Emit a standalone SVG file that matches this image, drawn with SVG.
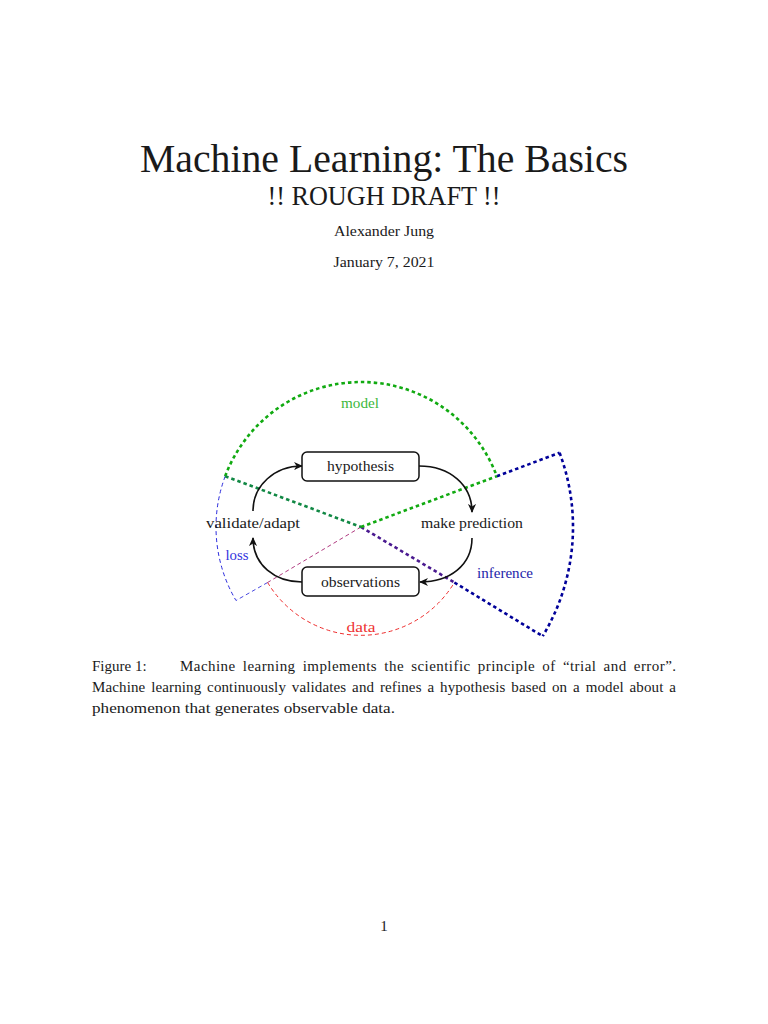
<svg xmlns="http://www.w3.org/2000/svg" width="768" height="1024" viewBox="0 0 768 1024">
<defs>
<style>
text{font-family:'Liberation Serif','DejaVu Serif',serif;fill:#1a1a1a}
.thick{fill:none;stroke-width:2.6;stroke-dasharray:3.5 3}
.thin{fill:none;stroke-width:1;stroke-dasharray:4 3}
.box{fill:#fff;stroke:#111;stroke-width:1.5}
.arr{fill:none;stroke:#111;stroke-width:1.6}
.lbl{font-size:15px;text-anchor:middle}
</style>
<marker id="ah" viewBox="0 0 10 10" refX="9" refY="5" markerWidth="9" markerHeight="9" markerUnits="userSpaceOnUse" orient="auto">
<path d="M0,0.5 L10,5 L0,9.5 L3,5 z" fill="#111"/>
</marker>
</defs>
<rect width="768" height="1024" fill="#fff"/>
<g font-family="Liberation Serif, DejaVu Serif, serif">
<g id="header">
<text x="384" y="172" font-size="40" text-anchor="middle" textLength="488" lengthAdjust="spacingAndGlyphs">Machine Learning: The Basics</text>
<text x="384" y="205" font-size="27" text-anchor="middle" textLength="233" lengthAdjust="spacingAndGlyphs">!! ROUGH DRAFT !!</text>
<text x="384" y="236" font-size="15" text-anchor="middle" textLength="100" lengthAdjust="spacingAndGlyphs">Alexander Jung</text>
<text x="384" y="267" font-size="15" text-anchor="middle" textLength="101" lengthAdjust="spacingAndGlyphs">January 7, 2021</text>
</g>
<g id="sectors">
<g id="inference">
<path class="thick" stroke="#000099" d="M559.6,452.8 A212,212 0 0 1 542.7,636.2"/>
<path class="thick" stroke="#000099" d="M496.8,476.2 L559.6,452.8"/>
<path class="thick" stroke="#000099" d="M454.4,582.5 L542.7,636.2"/>
<path class="thick" stroke="#4a1a90" d="M361,527 L454.4,582.5"/>
<text x="505" y="578" class="lbl" textLength="56" lengthAdjust="spacingAndGlyphs" style="fill:#1e1eaa">inference</text>
</g>
<g id="loss">
<path class="thin" stroke="#2a2add" d="M225.2,476.2 A145,145 0 0 0 236,600.5"/>
<path class="thin" stroke="#4a4ae0" d="M267.6,582.5 L236,600.5"/>
<text x="237" y="560" class="lbl" textLength="23" lengthAdjust="spacingAndGlyphs" style="fill:#3333dd">loss</text>
</g>
<g id="data">
<path class="thin" stroke="#ee2a2a" d="M267.6,582.5 A109,109 0 0 0 454.4,582.5"/>
<path class="thin" stroke="#b03a80" d="M361,527 L267.6,582.5"/>
<text x="361" y="632" class="lbl" textLength="29" lengthAdjust="spacingAndGlyphs" style="fill:#ee3333">data</text>
</g>
<g id="model">
<path class="thick" stroke="#11aa11" d="M225.2,476.2 A145,145 0 0 1 496.8,476.2"/>
<path class="thick" stroke="#118844" d="M225.2,476.2 L361,527"/>
<path class="thick" stroke="#11aa11" d="M361,527 L496.8,476.2"/>
<text x="360" y="408" class="lbl" textLength="38" lengthAdjust="spacingAndGlyphs" style="fill:#3cb83c">model</text>
</g>
</g>
<g id="connectors">
<path class="arr" marker-end="url(#ah)" d="M419,466 C450,466 472,485 472,512"/>
<path class="arr" marker-end="url(#ah)" d="M472,538 C472,565 450,582 420,582"/>
<path class="arr" marker-end="url(#ah)" d="M302,582 C275,582 253,565 253,538"/>
<path class="arr" marker-end="url(#ah)" d="M253,511 C253,485 275,466 302,466"/>
</g>
<g id="hypothesis">
<rect class="box" x="302" y="452" width="117" height="29" rx="5"/>
<text x="360.5" y="471" class="lbl" textLength="67" lengthAdjust="spacingAndGlyphs">hypothesis</text>
</g>
<g id="observations">
<rect class="box" x="302" y="567" width="117" height="29" rx="5"/>
<text x="360.5" y="587" class="lbl" textLength="79" lengthAdjust="spacingAndGlyphs">observations</text>
</g>
<g id="validate">
<text x="253" y="528" class="lbl" textLength="94" lengthAdjust="spacingAndGlyphs">validate/adapt</text>
</g>
<g id="prediction">
<text x="472" y="528" class="lbl" textLength="102" lengthAdjust="spacingAndGlyphs">make prediction</text>
</g>
<g id="caption" font-size="15">
<text x="92" y="671">Figure 1:</text>
<text x="180" y="671" textLength="496" lengthAdjust="spacing" word-spacing="3">Machine learning implements the scientific principle of “trial and error”.</text>
<text x="92" y="692" textLength="584" lengthAdjust="spacing" word-spacing="2">Machine learning continuously validates and refines a hypothesis based on a model about a</text>
<text x="92" y="713" textLength="303" lengthAdjust="spacingAndGlyphs">phenomenon that generates observable data.</text>
</g>
<text x="384" y="931" font-size="15" text-anchor="middle">1</text>
</g>
</svg>
